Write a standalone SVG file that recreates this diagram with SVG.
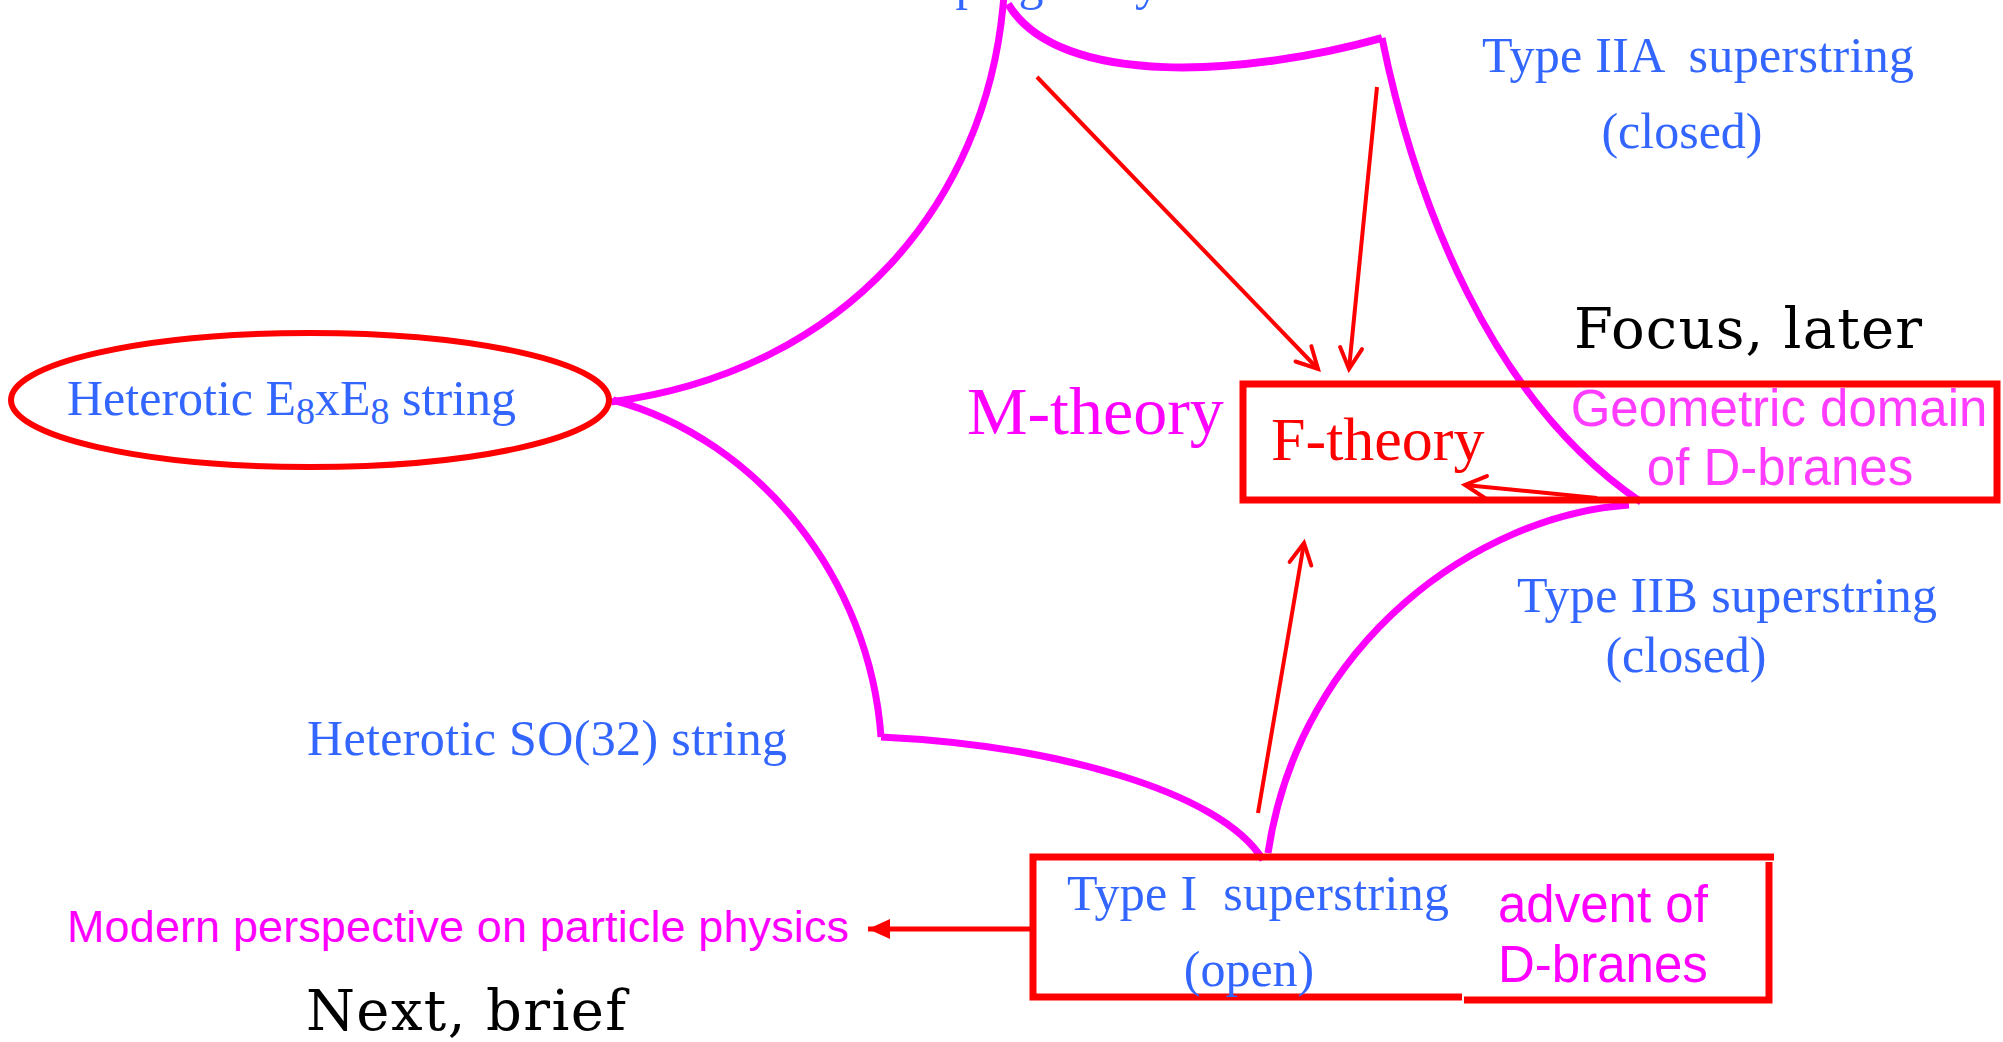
<svg xmlns="http://www.w3.org/2000/svg" width="2003" height="1042" viewBox="0 0 2003 1042">
<style>
.blue{fill:#3366FF;font-family:"Liberation Serif","Times New Roman",serif;font-size:50px}
.msans{fill:#FF00FF;font-family:"Liberation Sans",Arial,sans-serif}
.lsans{fill:#FF3CFF;font-family:"Liberation Sans",Arial,sans-serif;font-size:51px}
.slab{fill:#000000;font-family:"DejaVu Serif",serif;font-size:56px}
.arc{fill:none;stroke:#FF00FF;stroke-width:7}
.arrow{fill:none;stroke:#FF0000;stroke-width:4;marker-end:url(#chev)}
.box{fill:none;stroke:#FF0000;stroke-width:7}
</style>
<defs>
<marker id="chev" markerUnits="userSpaceOnUse" markerWidth="30" markerHeight="30" viewBox="-26 -15 30 30" refX="0" refY="0" orient="auto">
<path d="M-21,-11 L0,0 L-21,11" fill="none" stroke="#FF0000" stroke-width="4" stroke-linecap="round" stroke-linejoin="miter"/>
</marker>
<marker id="tri" markerUnits="userSpaceOnUse" markerWidth="30" markerHeight="30" viewBox="-26 -15 30 30" refX="0" refY="0" orient="auto">
<path d="M0,0 L-22,-10 L-22,10 Z" fill="#FF0000"/>
</marker>
</defs>
<rect x="0" y="0" width="2003" height="1042" fill="#FFFFFF"/>

<g id="connectors">
<path class="arc" d="M1004,-4 L1003,6 C985,200 850,370 611,402"/>
<path class="arc" style="stroke-width:8" d="M1008,4 C1060,90 1250,75 1382,38"/>
<path class="arc" d="M1382,38 C1415,200 1490,400 1641,502"/>
<path class="arc" d="M1629,505 C1480,515 1300,640 1268,853"/>
<path class="arc" d="M881,737 C1050,745 1220,790 1263,860"/>
<path class="arc" d="M613,400 C760,440 870,580 881,737"/>
<line class="arrow" x1="1037" y1="77" x2="1318" y2="369"/>
<line class="arrow" x1="1377" y1="87" x2="1349" y2="369"/>
<line class="arrow" x1="1597" y1="498" x2="1465" y2="485"/>
<line class="arrow" x1="1258" y1="813" x2="1304" y2="543"/>
<line x1="1032" y1="929" x2="868" y2="929" stroke="#FF0000" stroke-width="5" marker-end="url(#tri)"/>
</g>

<g id="node-sugra">
<text class="blue" x="911" y="-1">supergravity</text>
</g>

<g id="node-e8">
<ellipse cx="310" cy="400" rx="299" ry="67" fill="none" stroke="#FF0000" stroke-width="6"/>
<text class="blue" x="67" y="415">Heterotic E<tspan font-size="38" dy="9">8</tspan><tspan dy="-9">xE</tspan><tspan font-size="38" dy="9">8</tspan><tspan dy="-9"> string</tspan></text>
</g>

<g id="node-so32">
<text class="blue" x="307" y="755" textLength="480">Heterotic SO(32) string</text>
</g>

<g id="node-typeIIA">
<text class="blue" x="1482" y="72" textLength="432" xml:space="preserve">Type IIA  superstring</text>
<text class="blue" x="1682" y="148" text-anchor="middle">(closed)</text>
</g>

<g id="node-typeIIB">
<text class="blue" x="1517" y="612" textLength="420">Type IIB superstring</text>
<text class="blue" x="1686" y="672" text-anchor="middle">(closed)</text>
</g>

<g id="node-mtheory">
<text x="967" y="434" fill="#FF00FF" font-family="Liberation Serif, Times New Roman, serif" font-size="68">M-theory</text>
</g>

<g id="node-ftheory">
<rect class="box" x="1243" y="384" width="754" height="116"/>
<text x="1271" y="460" fill="#FF0000" font-family="Liberation Serif, Times New Roman, serif" font-size="62">F-theory</text>
<text class="lsans" x="1779" y="426" text-anchor="middle">Geometric domain</text>
<text class="lsans" x="1780" y="485" text-anchor="middle">of D-branes</text>
</g>

<g id="node-typeI">
<path class="box" d="M1462,857 L1033,857 L1033,997 L1462,997"/>
<path class="box" d="M1462,857 L1774,857 M1769,862 L1769,1000 L1464,1000"/>
<text class="blue" x="1067" y="910" textLength="382" xml:space="preserve">Type I  superstring</text>
<text class="blue" x="1249" y="986" text-anchor="middle">(open)</text>
<text class="msans" x="1498" y="922" font-size="51">advent of</text>
<text class="msans" x="1498" y="982" font-size="51">D-branes</text>
</g>

<g id="node-modern">
<text class="msans" x="67" y="942" font-size="45" textLength="782">Modern perspective on particle physics</text>
</g>

<g id="labels">
<text class="slab" x="1574" y="348" textLength="348">Focus, later</text>
<text class="slab" x="306" y="1030" textLength="320">Next, brief</text>
</g>
</svg>
